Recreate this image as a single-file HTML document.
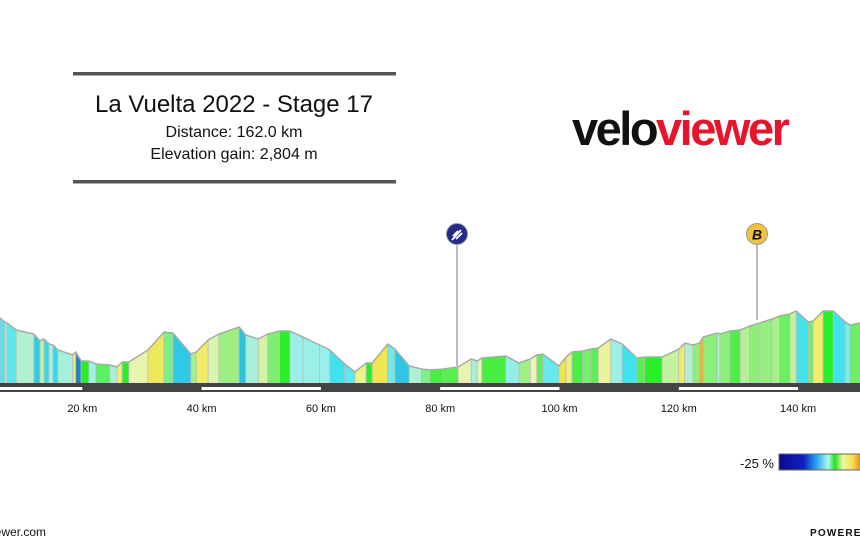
<!DOCTYPE html>
<html><head><meta charset="utf-8"><style>
html,body{margin:0;padding:0;background:#fff;}
body{width:860px;height:546px;overflow:hidden;position:relative;font-family:"Liberation Sans",sans-serif;}
</style></head><body>
<svg id="chart" width="860" height="546" viewBox="0 0 860 546" xmlns="http://www.w3.org/2000/svg" style="position:absolute;left:0;top:0">
  <g>
    <rect x="73" y="72" width="323" height="3.5" fill="#555"/>
    <rect x="73" y="180" width="323" height="3.5" fill="#555"/>
    <text x="234" y="112" text-anchor="middle" font-size="24" fill="#111">La Vuelta 2022 - Stage 17</text>
    <text x="234" y="137" text-anchor="middle" font-size="16" fill="#111">Distance: 162.0 km</text>
    <text x="234" y="159" text-anchor="middle" font-size="16" fill="#111">Elevation gain: 2,804 m</text>
  </g>
  <text x="572" y="145" font-size="47" font-weight="bold" letter-spacing="-2.5" fill="#111">velo<tspan fill="#e8142c">viewer</tspan></text>
  <g id="profile"></g>
  <rect x="0" y="383" width="860" height="9" fill="#444"/>
  <g id="axis"></g>
  <g>
    <line x1="457" y1="244" x2="457" y2="366" stroke="#777" stroke-width="1"/>
    <circle cx="457" cy="234" r="10.5" fill="#232a8c" stroke="#999" stroke-width="1"/>
    <path d="M452 240 L461 230 M453 236 L458 231 M456 239 L462 233" stroke="#fff" stroke-width="1.8" fill="none"/>
  </g>
  <g>
    <line x1="757" y1="244" x2="757" y2="320" stroke="#777" stroke-width="1"/>
    <circle cx="757" cy="234" r="10.5" fill="#f2c23a" stroke="#999" stroke-width="1"/>
    <text x="757" y="239.5" text-anchor="middle" font-size="14" font-weight="bold" font-style="italic" fill="#111">B</text>
  </g>
  <g>
    <defs><linearGradient id="lg" x1="0" x2="1">
      <stop offset="0" stop-color="#0a0a90"/><stop offset="0.3" stop-color="#1020c0"/><stop offset="0.45" stop-color="#20a0f0"/>
      <stop offset="0.6" stop-color="#b0f8f0"/><stop offset="0.68" stop-color="#20e020"/><stop offset="0.78" stop-color="#f0f8a0"/>
      <stop offset="0.9" stop-color="#f0e050"/><stop offset="1" stop-color="#f08020"/></linearGradient></defs>
    <text x="774" y="468" text-anchor="end" font-size="13" fill="#111">-25 %</text>
    <rect x="779" y="454" width="82" height="16" fill="url(#lg)" stroke="#666" stroke-width="1"/>
  </g>
  <text x="-36" y="536" font-size="12" fill="#111">veloviewer.com</text>
  <text x="810" y="536" font-size="10" font-weight="bold" letter-spacing="1.2" fill="#111">POWERED</text>
</svg>
<script>
const distKm=[6.2,7.0,7.4,8.9,11.9,12.9,13.6,14.4,15.1,15.9,18.4,18.9,19.8,21.1,22.3,24.6,25.8,26.7,27.8,31.0,33.7,35.2,38.2,39.1,41.1,42.9,46.3,47.4,49.5,51.1,53.1,54.8,57.0,59.8,61.5,64.0,65.7,67.6,68.6,71.2,72.4,74.8,76.9,78.3,80.5,83.0,85.2,86.2,87.0,91.0,93.2,95.1,96.2,97.2,99.9,101.1,102.1,103.9,105.3,106.5,108.6,110.5,113.0,114.3,117.2,120.0,121.0,122.4,123.5,124.1,126.4,126.9,128.6,130.3,131.9,133.6,135.6,136.9,138.6,139.7,141.7,142.5,144.2,145.9,147.9,148.7,150.4];
const elevM=[1100,1033,1017,900,833,717,750,667,650,567,483,533,383,383,333,317,283,367,367,567,867,850,500,533,733,833,950,817,750,833,883,883,783,650,567,333,200,350,350,667,583,300,250,233,250,283,417,383,433,467,350,417,483,500,300,450,533,550,583,600,750,667,433,450,450,583,683,650,683,783,850,833,883,900,967,1017,1083,1133,1167,1217,1033,1050,1217,1217,1033,983,1017];
const tickKm=[20,40,60,80,100,120,140];
const tickLabels=["20 km","40 km","60 km","80 km","100 km","120 km","140 km"];
const X=k=>-37+k*5.965, Y=e=>384-e*0.06;
const NS="http://www.w3.org/2000/svg";
const stops=[[-25,[10,10,144]],[-10,[50,225,240]],[-5,[150,240,235]],[-2,[180,240,205]],[0,[40,240,40]],[2,[110,238,100]],[4,[175,240,145]],[6,[232,245,180]],[9,[240,240,115]],[13,[240,225,70]],[25,[240,60,30]]];
function col(g){if(g<=stops[0][0])return stops[0][1];for(let i=1;i<stops.length;i++){if(g<=stops[i][0]){const a=stops[i-1],b=stops[i],t=(g-a[0])/(b[0]-a[0]);return a[1].map((v,j)=>Math.round(v+(b[1][j]-v)*t));}}return stops[stops.length-1][1];}
const prof=document.getElementById('profile');
for(let i=0;i<distKm.length-1;i++){
  const g=(elevM[i+1]-elevM[i])/((distKm[i+1]-distKm[i])*10);
  const c=col(g);
  const p=document.createElementNS(NS,'polygon');
  
  
  const x1=X(distKm[i]),x2=X(distKm[i+1]);
  p.setAttribute('points',`${x1},384 ${x1},${Y(elevM[i])} ${x2},${Y(elevM[i+1])} ${x2},384`);
  p.setAttribute('fill',`rgb(${c.join(',')})`);
  p.setAttribute('stroke','#bbb');p.setAttribute('stroke-width','0.8');
  prof.appendChild(p);
}
const line=document.createElementNS(NS,'polyline');


line.setAttribute('points',distKm.map((k,i)=>X(k)+','+Y(elevM[i])).join(' '));
line.setAttribute('fill','none');line.setAttribute('stroke','#aaa');line.setAttribute('stroke-width','1.5');
prof.appendChild(line);
const ax=document.getElementById('axis');
tickKm.forEach((k,i)=>{
  if(i%2===0){
    const s=document.createElementNS(NS,'rect');
    
    
    const a=X(k-20),b=X(k);
    s.setAttribute('x',a);s.setAttribute('y',387);s.setAttribute('width',b-a);s.setAttribute('height',3);s.setAttribute('fill','#fff');
    ax.appendChild(s);
  }
  const t=document.createElementNS(NS,'text');
  
  
  t.setAttribute('x',X(k));t.setAttribute('y',412);t.setAttribute('text-anchor','middle');t.setAttribute('font-size','11');t.setAttribute('fill','#111');
  t.textContent=tickLabels[i];
  ax.appendChild(t);
});
</script>
</body></html>
